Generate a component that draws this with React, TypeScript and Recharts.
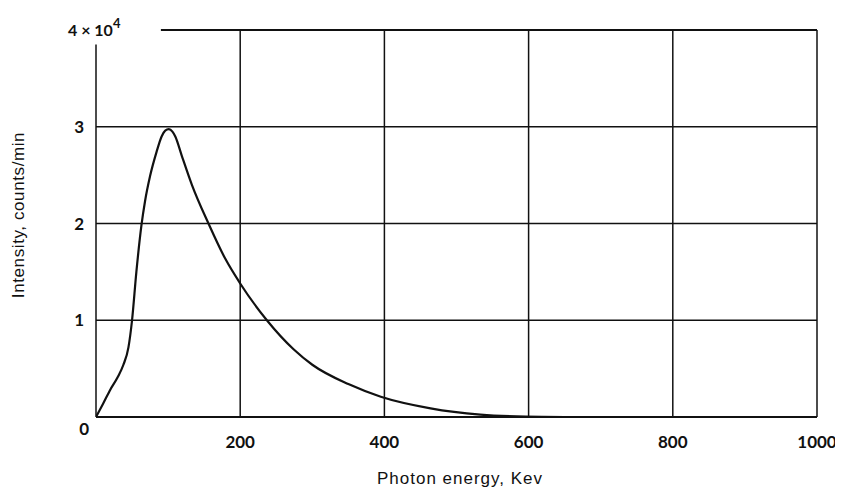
import React from "react";
import { LineChart, Line, XAxis, YAxis, ReferenceLine } from "recharts";

const energy = [0, 10, 20, 30, 38, 45, 50, 56, 63, 68, 75, 84, 91, 96, 101, 106, 110, 119, 133, 156, 179, 200, 237, 274, 300, 350, 395, 464, 533, 596, 650];
const intensity = [0, 1400, 2850, 4100, 5400, 7200, 10000, 15000, 19800, 22300, 24900, 27400, 29000, 29600, 29750, 29500, 29000, 27000, 24000, 20000, 16400, 13800, 10000, 7000, 5400, 3400, 2100, 900, 250, 40, 0];

const xTicks = [200, 400, 600, 800, 1000];
const yTicks = [0, 10000, 20000, 30000, 40000];
const gridX = [200, 400, 600, 800, 1000];
const gridY = [10000, 20000, 30000];
const topLineStart = 90;
const leftLineTop = 38500;

const data = energy.map((e, i) => ({ e, v: intensity[i] }));

const INK = "#111";
const NUM_FONT = "Lato, 'DejaVu Sans', sans-serif";
const TITLE_FONT = "'Liberation Sans Narrow', 'Liberation Sans', sans-serif";

const XTick = (props: any) => {
  const { x, y, payload } = props;
  return (
    <text x={x} y={y + 31} textAnchor="middle" fontFamily={NUM_FONT} fontWeight={700} fontSize={17} fill={INK}>
      {payload.value}
    </text>
  );
};

const YTick = (props: any) => {
  const { x, y, payload } = props;
  const v = payload.value;
  if (v === 40000) {
    return (
      <text x={x - 28} y={y + 6} textAnchor="start" fontFamily={NUM_FONT} fontWeight={700} fontSize={16} fill={INK}>
        4 × 10
        <tspan dy={-8} fontSize={13}>4</tspan>
      </text>
    );
  }
  if (v === 0) {
    return (
      <text x={x - 7} y={y + 18} textAnchor="end" fontFamily={NUM_FONT} fontWeight={700} fontSize={17} fill={INK}>
        0
      </text>
    );
  }
  return (
    <text x={x - 12} y={y + 6} textAnchor="end" fontFamily={NUM_FONT} fontWeight={700} fontSize={17} fill={INK}>
      {v / 10000}
    </text>
  );
};

export default function App() {
  return (
    <div style={{ width: 835, height: 489, position: "relative", background: "#fff" }}>
      <LineChart width={835} height={489} data={data} margin={{ top: 22, right: 26, left: 28, bottom: 40 }}>
        <XAxis
          dataKey="e"
          type="number"
          domain={[0, 1000]}
          ticks={xTicks}
          tickLine={false}
          tickSize={0}
          tickMargin={0}
          axisLine={{ stroke: INK, strokeWidth: 2 }}
          tick={<XTick />}
          height={40}
          allowDataOverflow
        />
        <YAxis
          type="number"
          domain={[0, 40000]}
          ticks={yTicks}
          tickLine={false}
          tickSize={0}
          tickMargin={0}
          axisLine={false}
          tick={<YTick />}
          width={60}
          allowDataOverflow
        />
        {gridY.map((g) => (
          <ReferenceLine key={"gy" + g} y={g} stroke={INK} strokeWidth={1.5} />
        ))}
        {gridX.map((g) => (
          <ReferenceLine key={"gx" + g} x={g} stroke={INK} strokeWidth={1.5} />
        ))}
        <ReferenceLine segment={[{ x: topLineStart, y: 40000 }, { x: 1000, y: 40000 }]} stroke={INK} strokeWidth={2} />
        <ReferenceLine segment={[{ x: 0, y: 0 }, { x: 0, y: leftLineTop }]} stroke={INK} strokeWidth={1.5} />
        <Line
          dataKey="v"
          type="monotone"
          stroke={INK}
          strokeWidth={2.2}
          dot={false}
          isAnimationActive={false}
        />
      </LineChart>
      <div
        style={{
          position: "absolute",
          left: 0,
          top: 0,
          width: 835,
          height: 489,
          pointerEvents: "none",
        }}
      >
        <svg width={835} height={489}>
          <text
            x={460 - 8}
            y={484 - 8}
            textAnchor="middle"
            fontFamily={TITLE_FONT}
            fontSize={17}
            letterSpacing={1}
            fill={INK}
          >
            Photon energy, Kev
          </text>
          <text
            transform={`translate(${24 - 8}, ${215 - 8}) rotate(-90)`}
            textAnchor="middle"
            fontFamily={TITLE_FONT}
            fontSize={17}
            letterSpacing={0.6}
            fill={INK}
          >
            Intensity, counts/min
          </text>
        </svg>
      </div>
    </div>
  );
}
